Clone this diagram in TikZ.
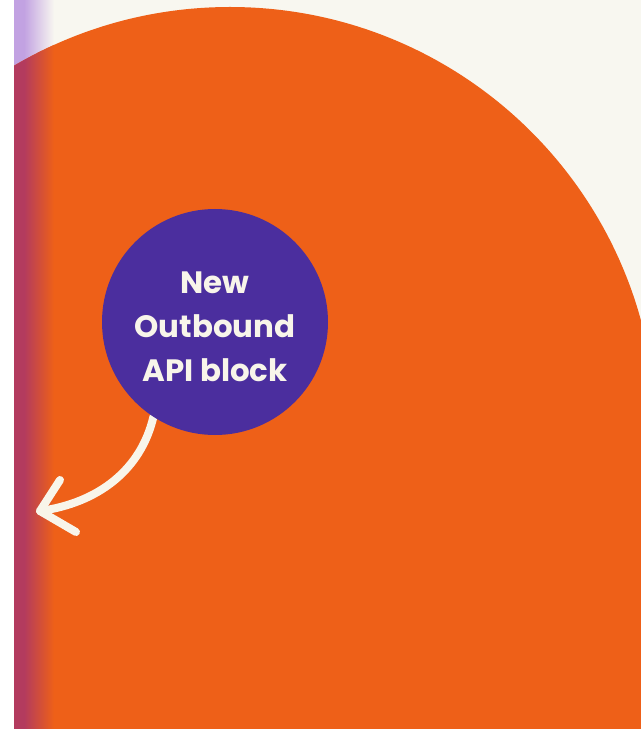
\documentclass[tikz,border=0pt]{standalone}
\usepackage{fontspec}
\setmainfont{Poppins}
\definecolor{cream}{HTML}{F8F7F0}
\definecolor{flame}{HTML}{EE6018}
\definecolor{lavender}{HTML}{C2A2E2}
\definecolor{berry}{HTML}{B33B5E}
\definecolor{indigo}{HTML}{4B2E9E}
\definecolor{chalk}{HTML}{F8F5EA}
\pgfdeclarelayer{front}
\pgfsetlayers{main,front}
\tikzset{
  apicircle/.style={circle, fill=indigo, minimum size=226bp, inner sep=0pt},
  apitext/.style={align=center, text=chalk, font=\fontsize{31}{44}\selectfont\bfseries},
  chalkline/.style={draw=chalk, line width=8bp, line cap=round, line join=round}
}
\begin{document}
\begin{tikzpicture}[x=1bp, y=-1bp]
		% Frame
		\useasboundingbox (0,0) rectangle (641,729);
		\fill[white] (0,0) rectangle (641,729);
		\clip (14,0) rectangle (641,729);
		\fill[cream] (14,0) rectangle (641,729);
		
		% Strip above the big shape
		\fill[lavender] (14,0) rectangle (24,729);
		\shade[left color=lavender, right color=cream] (24,0) rectangle (54,729);
		
		% Big orange arch and its strip
		\def\arch{(-196,433) arc[start angle=180, end angle=0, radius=426bp] -- (656,800) -- (-196,800) -- cycle}
		\fill[flame] \arch;
		\begin{scope}
			\clip \arch;
			\fill[berry] (14,0) rectangle (24,729);
			\shade[left color=berry, right color=flame] (24,0) rectangle (54,729);
		\end{scope}
		
		% Circle and label
		\begin{pgfonlayer}{front}
			\node[apicircle] (api) at (215,322) {};
			\node[apitext] (label) at ([yshift=-5bp]api.center) {New\\Outbound\\API block};
		\end{pgfonlayer}
		
		% Arrow
		\coordinate (tip) at (40,511);
		\coordinate (up) at (60,480);
		\coordinate (low) at (76,532);
		\draw[chalkline] (api.237) .. controls (141,470) and (98,503) .. (tip);
		\draw[chalkline] (up) -- (tip) -- (low);
	\end{tikzpicture}
\end{document}
